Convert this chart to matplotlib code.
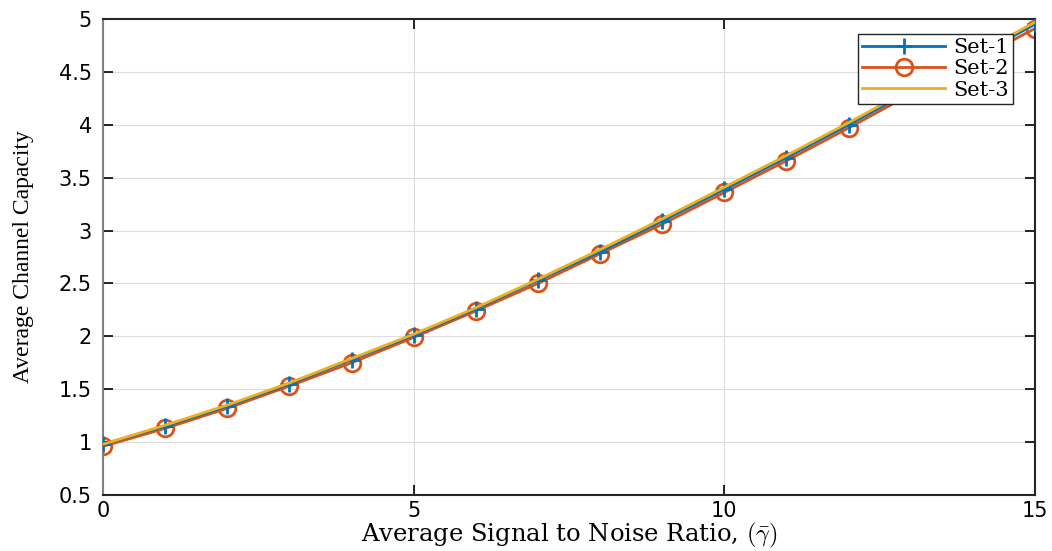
import numpy as np
import matplotlib
matplotlib.use("Agg")
import matplotlib.pyplot as plt

# average SNR values (x axis)
snr = [0, 1, 2, 3, 4, 5, 6, 7, 8, 9, 10, 11, 12, 13, 14, 15]

# average channel capacity
set1 = [0.98, 1.15, 1.34, 1.55, 1.78, 2.01, 2.26, 2.53, 2.80, 3.09, 3.39, 3.69, 4.00, 4.32, 4.63, 4.95]
set2 = [0.96, 1.13, 1.32, 1.53, 1.75, 1.99, 2.24, 2.50, 2.78, 3.06, 3.36, 3.66, 3.97, 4.29, 4.60, 4.91]
set3 = [0.98, 1.16, 1.35, 1.56, 1.79, 2.02, 2.27, 2.54, 2.82, 3.11, 3.41, 3.71, 4.02, 4.34, 4.65, 4.97]

plt.rcParams['mathtext.fontset'] = 'cm'

fig = plt.figure(figsize=(10.52, 5.51), dpi=100)
ax = fig.add_axes([0.0979, 0.1016, 0.8859, 0.8639])

ax.plot(snr, set1, color='#0072BD', lw=2, marker='+', ms=11, mew=2, label='Set-1', zorder=3)
ax.plot(snr, set2, color='#D95319', lw=2, marker='o', ms=12, mfc='none', mew=2, label='Set-2', zorder=2)
ax.plot(snr, set3, color='#EDB120', lw=2, label='Set-3', zorder=4)

ax.set_xlim(0, 15)
ax.set_ylim(0.5, 5)
ax.set_xticks([0, 5, 10, 15])
ax.set_yticks(np.arange(0.5, 5.01, 0.5))
ax.set_yticklabels(['0.5', '1', '1.5', '2', '2.5', '3', '3.5', '4', '4.5', '5'])
ax.grid(True, color='#dcdcdc', lw=0.8)
ax.tick_params(direction='in', top=True, right=True, length=7, width=1.2,
               labelsize=15, pad=8)
ax.tick_params(axis='x', pad=4)
for s in ax.spines.values():
    s.set_linewidth(1.5)
    s.set_color('#262626')
ax.spines['left'].set_color('#808080')

ax.set_xlabel(r'Average Signal to Noise Ratio, $(\bar{\gamma})$',
              family='DejaVu Serif', fontsize=17.5, labelpad=0)
ax.set_ylabel('Average Channel Capacity', family='Liberation Serif',
              fontsize=17, labelpad=18)

leg = ax.legend(loc='upper right', bbox_to_anchor=(0.988, 0.99),
                prop={'family': 'DejaVu Serif', 'size': 15}, fancybox=False,
                framealpha=1, edgecolor='#262626', borderpad=0.2,
                labelspacing=0.1, handlelength=4.0, handletextpad=0.4)
leg.get_frame().set_linewidth(1.0)

plt.savefig('out.png', dpi=100)
